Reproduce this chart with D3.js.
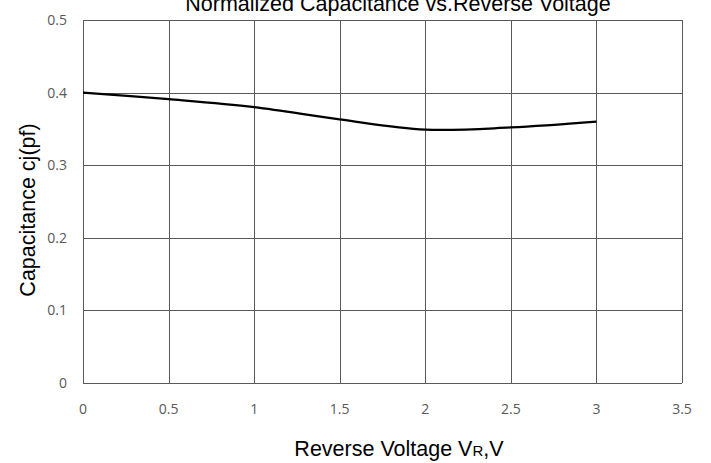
<!DOCTYPE html>
<html lang="en">
<head>
<meta charset="utf-8">
<title>Normalized Capacitance vs. Reverse Voltage</title>
<script src="https://d3js.org/d3.v7.min.js"></script>
<style>
  body { margin: 0; background: #fff; }
</style>
</head>
<body>
<script>
  // data
  var voltage = [0, 0.5, 1, 1.5, 2, 2.5, 3];
  var capacitance = [0.400, 0.391, 0.380, 0.363, 0.349, 0.352, 0.360];
  var xTicks = [0, 0.5, 1, 1.5, 2, 2.5, 3, 3.5];
  var yTicks = [0, 0.1, 0.2, 0.3, 0.4, 0.5];

  var width = 711, height = 463;
  var margin = {top: 20, right: 29, bottom: 80, left: 83};

  var svg = d3.select("body").append("svg")
      .attr("width", width)
      .attr("height", height);

  var x = d3.scaleLinear().domain([0, 3.5]).range([margin.left, width - margin.right]);
  var y = d3.scaleLinear().domain([0, 0.5]).range([height - margin.bottom, margin.top]);

  var gridColor = "#595959";

  // vertical grid
  svg.append("g").selectAll("line")
      .data(xTicks)
      .join("line")
      .attr("x1", d => Math.round(x(d)) + 0.5)
      .attr("x2", d => Math.round(x(d)) + 0.5)
      .attr("y1", y(0.5))
      .attr("y2", y(0))
      .attr("stroke", gridColor)
      .attr("stroke-width", 1);

  // horizontal grid
  svg.append("g").selectAll("line")
      .data(yTicks)
      .join("line")
      .attr("x1", x(0))
      .attr("x2", x(3.5))
      .attr("y1", d => Math.round(y(d)) + 0.5)
      .attr("y2", d => Math.round(y(d)) + 0.5)
      .attr("stroke", gridColor)
      .attr("stroke-width", 1);

  // tick labels
  svg.append("g").selectAll("text")
      .data(xTicks)
      .join("text")
      .attr("x", d => x(d))
      .attr("y", y(0) + 31)
      .attr("text-anchor", "middle")
      .attr("font-family", "'Open Sans', sans-serif")
      .attr("font-size", 14)
      .attr("fill", "#595959")
      .text(d => d);

  svg.append("g").selectAll("text")
      .data(yTicks)
      .join("text")
      .attr("x", margin.left - 16)
      .attr("y", d => y(d) + 5)
      .attr("text-anchor", "end")
      .attr("font-family", "'Open Sans', sans-serif")
      .attr("font-size", 14)
      .attr("fill", "#595959")
      .text(d => d);

  // curve
  var line = d3.line()
      .x((d, i) => x(voltage[i]))
      .y(d => y(d))
      .curve(d3.curveCatmullRom.alpha(0.5));

  svg.append("path")
      .datum(capacitance)
      .attr("d", line)
      .attr("fill", "none")
      .attr("stroke", "#000")
      .attr("stroke-width", 2.25);

  // title
  svg.append("text")
      .attr("x", 398)
      .attr("y", 11)
      .attr("text-anchor", "middle")
      .attr("font-family", "'Liberation Sans', Arial, sans-serif")
      .attr("font-size", 21.5)
      .attr("fill", "#000")
      .text("Normalized Capacitance vs.Reverse Voltage");

  // x axis label
  var xl = svg.append("text")
      .attr("x", 399)
      .attr("y", 456)
      .attr("text-anchor", "middle")
      .attr("font-family", "'Liberation Sans', Arial, sans-serif")
      .attr("font-size", 21.5)
      .attr("fill", "#000");
  xl.append("tspan").text("Reverse Voltage V");
  xl.append("tspan").attr("font-size", 15).text("R");
  xl.append("tspan").text(",V");

  // y axis label
  svg.append("text")
      .attr("transform", "translate(35," + 210 + ") rotate(-90)")
      .attr("text-anchor", "middle")
      .attr("font-family", "'Liberation Sans', Arial, sans-serif")
      .attr("font-size", 21.5)
      .attr("fill", "#000")
      .text("Capacitance cj(pf)");
</script>
</body>
</html>
